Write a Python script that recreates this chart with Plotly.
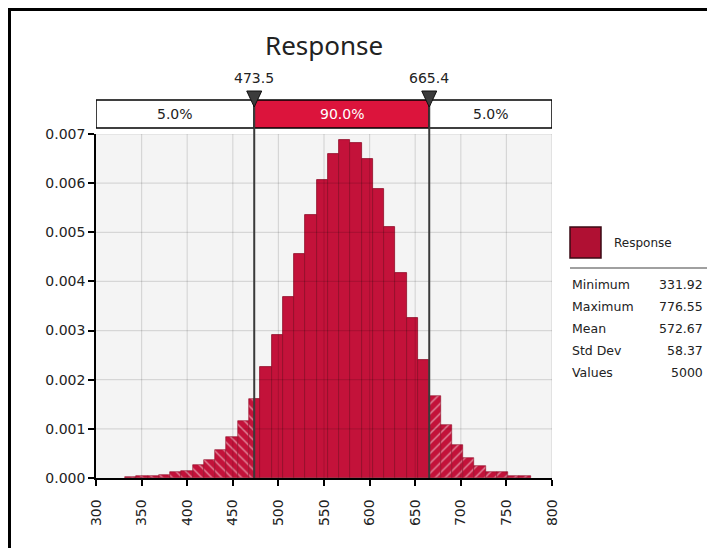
import plotly.graph_objects as go

# ---------------- data ----------------
title_text = "Response"
data_min = 331.92
data_max = 776.55
n_bins = 36
density = [0.00003, 0.00004, 0.00005, 0.00007, 0.00012, 0.00015, 0.00027, 0.00036,
           0.00056, 0.00084, 0.00117, 0.00161, 0.00226, 0.00291, 0.00369, 0.00455,
           0.00535, 0.00606, 0.00659, 0.00687, 0.00682, 0.00650, 0.00589, 0.00511,
           0.00418, 0.00325, 0.00240, 0.00166, 0.00108, 0.00068, 0.00040, 0.00024,
           0.00012, 0.00012, 0.00004, 0.00004]
delimiters = [473.5, 665.4]
band_pcts = [5.0, 90.0, 5.0]
x_ticks = [300, 350, 400, 450, 500, 550, 600, 650, 700, 750, 800]
y_ticks = [0.000, 0.001, 0.002, 0.003, 0.004, 0.005, 0.006, 0.007]
stat_labels = ["Minimum", "Maximum", "Mean", "Std Dev", "Values"]
stat_values = ["331.92", "776.55", "572.67", "58.37", "5000"]

# ---------------- layout geometry (page pixels) ----------------
OFF = 8  # page body margin
FW, FH = 715 - OFF, 548 - OFF
L, R, T, B = 96, 552, 134, 478   # page pixel coordinates of plot area
PW, PH = R - L, B - T
X0, X1 = x_ticks[0], x_ticks[-1]
Y0, Y1 = y_ticks[0], y_ticks[-1]


def px(p):
    return (p - L) / PW


def py(p):
    return (B - p) / PH


RED = "#C3123A"
RED_LINE = "#8E0C27"
BAND_RED = "#DC143C"
FONT = "DejaVu Sans"

# ---------------- bars ----------------
bw = (data_max - data_min) / n_bins
edges = [data_min + k * bw for k in range(n_bins + 1)]
lo, hi = delimiters
groups = {"L": ([], [], []), "M": ([], [], []), "R": ([], [], [])}
for i, d in enumerate(density):
    a, b = edges[i], edges[i + 1]
    parts = [(a, min(b, lo), "L"), (max(a, lo), min(b, hi), "M"), (max(a, hi), b, "R")]
    for s, e, k in parts:
        if e - s > 0.05:
            groups[k][0].append((s + e) / 2)
            groups[k][1].append(e - s)
            groups[k][2].append(d)

fig = go.Figure()
fig.add_trace(go.Bar(x=groups["M"][0], width=groups["M"][1], y=groups["M"][2],
                     marker=dict(color=RED, line=dict(color=RED_LINE, width=0.8)),
                     name=title_text, showlegend=False, hoverinfo="skip"))
for key, shape in (("L", "\\"), ("R", "/")):
    fig.add_trace(go.Bar(x=groups[key][0], width=groups[key][1], y=groups[key][2],
                         marker=dict(color=RED, line=dict(color=RED_LINE, width=0.6),
                                     pattern=dict(shape=shape, fgcolor="white", bgcolor=RED,
                                                  size=7, solidity=0.2)),
                         showlegend=False, hoverinfo="skip"))

shapes = []
annotations = []

# gridlines overlay (visible over the bars too)
for xv in x_ticks[1:]:
    shapes.append(dict(type="line", xref="x", yref="y", x0=xv, x1=xv, y0=Y0, y1=Y1,
                       line=dict(color="rgba(0,0,0,0.12)", width=1.2), layer="above"))
for yv in y_ticks[1:]:
    shapes.append(dict(type="line", xref="x", yref="y", x0=X0, x1=X1, y0=yv, y1=yv,
                       line=dict(color="rgba(0,0,0,0.12)", width=1.2), layer="above"))

# percentile band
seg_bounds = [X0, lo, hi, X1]
for j, pct in enumerate(band_pcts):
    mid = j == 1
    shapes.append(dict(type="rect", xref="x", yref="paper", x0=seg_bounds[j], x1=seg_bounds[j + 1],
                       y0=py(128), y1=py(100), fillcolor=BAND_RED if mid else "white",
                       line=dict(color="black", width=1.5), layer="above"))
    annotations.append(dict(x=(seg_bounds[j] + seg_bounds[j + 1]) / 2, y=py(114), xref="x", yref="paper",
                            text=f"{pct:.1f}%", showarrow=False, yanchor="middle",
                            font=dict(family=FONT, size=14, color="white" if mid else "#222222")))

# delimiter lines, triangles, labels
hw = 7.5 * (X1 - X0) / PW
for dv in delimiters:
    shapes.append(dict(type="line", xref="x", yref="paper", x0=dv, x1=dv, y0=py(478), y1=py(100),
                       line=dict(color="#3a3a3a", width=2), layer="above"))
    shapes.append(dict(type="path", xref="x", yref="paper",
                       path=f"M {dv - hw},{py(91)} L {dv + hw},{py(91)} L {dv},{py(107)} Z",
                       fillcolor="#3c3c3c", line=dict(color="#111111", width=1), layer="above"))
    annotations.append(dict(x=dv, y=py(78), xref="x", yref="paper", text=f"{dv:.1f}",
                            showarrow=False, yanchor="middle",
                            font=dict(family=FONT, size=14, color="#222222")))

# title
annotations.append(dict(x=0.5, y=py(45), xref="paper", yref="paper", text=title_text,
                        showarrow=False, yanchor="middle",
                        font=dict(family="Noto Sans", size=26, color="#222222")))

# legend / stats panel
shapes.append(dict(type="rect", xref="paper", yref="paper", x0=px(570), x1=px(601), y0=py(258), y1=py(227),
                   fillcolor="#B01033", line=dict(color="#3a0a14", width=1.5)))
annotations.append(dict(x=px(612), y=py(243), xref="paper", yref="paper", text=title_text,
                        showarrow=False, xanchor="left", yanchor="middle",
                        font=dict(family=FONT, size=12, color="#222222")))
shapes.append(dict(type="line", xref="paper", yref="paper", x0=px(570), x1=px(707), y0=py(268), y1=py(268),
                   line=dict(color="#A0A0A0", width=2)))
for k, (lab, val) in enumerate(zip(stat_labels, stat_values)):
    yy = py(284 + 22 * k)
    annotations.append(dict(x=px(570), y=yy, xref="paper", yref="paper", text=lab, showarrow=False,
                            xanchor="left", yanchor="middle",
                            font=dict(family=FONT, size=12.5, color="#222222")))
    annotations.append(dict(x=px(705), y=yy, xref="paper", yref="paper", text=val, showarrow=False,
                            xanchor="right", yanchor="middle",
                            font=dict(family=FONT, size=12.5, color="#222222")))

# outer frame (page x/y ~6..712; limited by the figure edge on left/top)
shapes.append(dict(type="rect", xref="paper", yref="paper", x0=px(OFF + 1.5), x1=px(712),
                   y0=py(600), y1=py(OFF + 1.5),
                   line=dict(color="black", width=3), fillcolor="rgba(0,0,0,0)"))

fig.update_layout(
    width=FW, height=FH,
    margin=dict(l=L - OFF, r=715 - R, t=T - OFF, b=548 - B, pad=0),
    paper_bgcolor="white", plot_bgcolor="#F4F4F4",
    barmode="overlay", bargap=0,
    shapes=shapes, annotations=annotations,
    showlegend=False,
    font=dict(family=FONT, color="#222222"),
)
fig.update_xaxes(range=[X0, X1], tickvals=x_ticks, ticktext=[str(v) for v in x_ticks],
                 tickangle=-90, showgrid=False, zeroline=False,
                 showline=True, linecolor="black", linewidth=1.5,
                 ticks="outside", ticklen=6, tickcolor="black", tickwidth=1.5,
                 ticklabelstandoff=8, tickfont=dict(family=FONT, size=14, color="#222222"))
fig.update_yaxes(range=[Y0, Y1], tickvals=y_ticks, tickformat=".3f",
                 showgrid=False, zeroline=False,
                 showline=True, linecolor="black", linewidth=1.5,
                 ticks="outside", ticklen=6, tickcolor="black", tickwidth=1.5,
                 tickfont=dict(family=FONT, size=14, color="#222222"))

fig.write_html("out.html")
